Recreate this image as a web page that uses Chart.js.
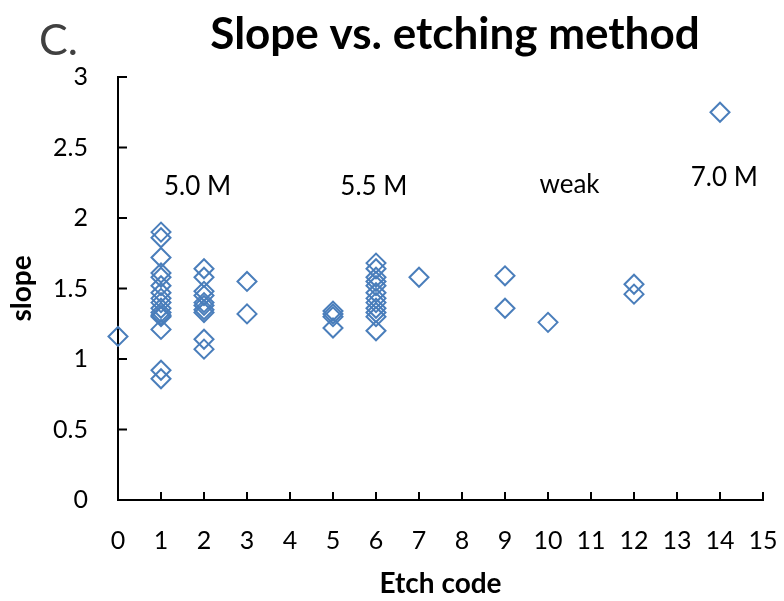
<!DOCTYPE html>
<html>
<head>
<meta charset="utf-8">
<script src="https://cdn.jsdelivr.net/npm/chart.js@4.4.0/dist/chart.umd.min.js"></script>
<style>
  html, body { margin: 0; padding: 0; background: #fff; }
  #wrap { width: 784px; height: 601px; }
</style>
</head>
<body>
<div id="wrap"><canvas id="myChart" width="784" height="601"></canvas></div>
<script>
// values
var etchCode = [
  0,
  1, 1, 1, 1, 1, 1, 1, 1, 1, 1, 1, 1, 1, 1, 1, 1,
  2, 2, 2, 2, 2, 2, 2, 2, 2, 2,
  3, 3,
  5, 5, 5, 5,
  6, 6, 6, 6, 6, 6, 6, 6, 6, 6, 6, 6,
  7,
  9, 9,
  10,
  12, 12,
  14
];
var slope = [
  1.16,
  1.90, 1.86, 1.72, 1.61, 1.58, 1.52, 1.47, 1.43, 1.40, 1.36, 1.33, 1.31, 1.30, 1.21, 0.92, 0.86,
  1.64, 1.58, 1.48, 1.45, 1.40, 1.38, 1.35, 1.33, 1.14, 1.07,
  1.55, 1.32,
  1.34, 1.32, 1.30, 1.22,
  1.68, 1.64, 1.58, 1.55, 1.52, 1.47, 1.43, 1.40, 1.36, 1.33, 1.30, 1.20,
  1.58,
  1.59, 1.36,
  1.26,
  1.53, 1.46,
  2.75
];
var xTicks = [0, 1, 2, 3, 4, 5, 6, 7, 8, 9, 10, 11, 12, 13, 14, 15];
var yTicks = [0, 0.5, 1, 1.5, 2, 2.5, 3];

// group labels and where they sit (data units)
var groupLabels = ['5.0 M', '5.5 M', 'weak', '7.0 M'];
var groupX = [1.85, 5.95, 10.5, 14.1];
var groupY = [2.22, 2.22, 2.24, 2.29];

var points = etchCode.map(function(x, i) { return { x: x, y: slope[i] }; });

var FONT = 'Lato, "Open Sans", sans-serif';

var extras = {
  id: 'extras',
  afterDraw: function(chart) {
    var ctx = chart.ctx;
    var xs = chart.scales.x, ys = chart.scales.y;
    ctx.save();
    // inward tick marks
    ctx.strokeStyle = '#000';
    ctx.lineWidth = 2;
    ctx.beginPath();
    xTicks.forEach(function(v) {
      var px = xs.getPixelForValue(v);
      ctx.moveTo(px, ys.bottom);
      ctx.lineTo(px, ys.bottom - 8);
    });
    yTicks.forEach(function(v) {
      var py = ys.getPixelForValue(v);
      ctx.moveTo(xs.left, py);
      ctx.lineTo(xs.left + 9, py);
    });
    ctx.stroke();

    // group labels
    ctx.fillStyle = '#000';
    ctx.font = '26px ' + FONT;
    ctx.textAlign = 'center';
    ctx.textBaseline = 'middle';
    groupLabels.forEach(function(t, i) {
      ctx.fillText(t, xs.getPixelForValue(groupX[i]), ys.getPixelForValue(groupY[i]));
    });

    // panel letter and title
    ctx.textBaseline = 'alphabetic';
    ctx.textAlign = 'left';
    ctx.fillStyle = '#404040';
    ctx.font = '43px ' + FONT;
    ctx.fillText('C.', 39, 55);
    ctx.textAlign = 'center';
    ctx.fillStyle = '#000';
    ctx.font = 'bold 44px ' + FONT;
    ctx.fillText('Slope vs. etching method', 455, 49);
    ctx.restore();
  }
};

var ctx = document.getElementById('myChart').getContext('2d');
var myChart = new Chart(ctx, {
  type: 'scatter',
  data: {
    datasets: [{
      label: 'slope',
      data: points,
      clip: false,
      pointStyle: 'rectRot',
      pointRadius: 9.5,
      pointBorderWidth: 2,
      borderColor: '#4a7ebb',
      backgroundColor: 'rgba(0,0,0,0)',
      pointBackgroundColor: 'rgba(0,0,0,0)'
    }]
  },
  options: {
    responsive: false,
    animation: false,
    layout: { padding: { top: 77, right: 21, left: 0, bottom: 0 } },
    plugins: {
      legend: { display: false },
      tooltip: { enabled: false }
    },
    scales: {
      x: {
        type: 'linear',
        min: 0,
        max: 15,
        afterFit: function(s) { s.height = 101; s.paddingLeft = 0; s.paddingRight = 0; },
        afterBuildTicks: function(s) { s.ticks = xTicks.map(function(v) { return { value: v }; }); },
        grid: { display: true, drawOnChartArea: false, drawTicks: false },
        border: { color: '#000', width: 2 },
        ticks: { color: '#000', font: { size: 25, family: FONT }, padding: 26, maxRotation: 0 },
        title: { display: true, text: 'Etch code', color: '#000', font: { size: 28, weight: 'bold', family: FONT }, padding: { top: 0, bottom: 0 } }
      },
      y: {
        min: 0,
        max: 3,
        afterFit: function(s) { s.width = 118; s.paddingTop = 0; s.paddingBottom = 0; },
        afterBuildTicks: function(s) { s.ticks = yTicks.map(function(v) { return { value: v }; }); },
        grid: { display: true, drawOnChartArea: false, drawTicks: false },
        border: { color: '#000', width: 2 },
        ticks: { color: '#000', font: { size: 25, family: FONT }, padding: 30, callback: function(v) { return String(v); } },
        title: { display: true, text: 'slope', color: '#000', font: { size: 28, weight: 'bold', family: FONT }, padding: { top: 5, bottom: 0 } }
      }
    }
  },
  plugins: [extras]
});
</script>
</body>
</html>
